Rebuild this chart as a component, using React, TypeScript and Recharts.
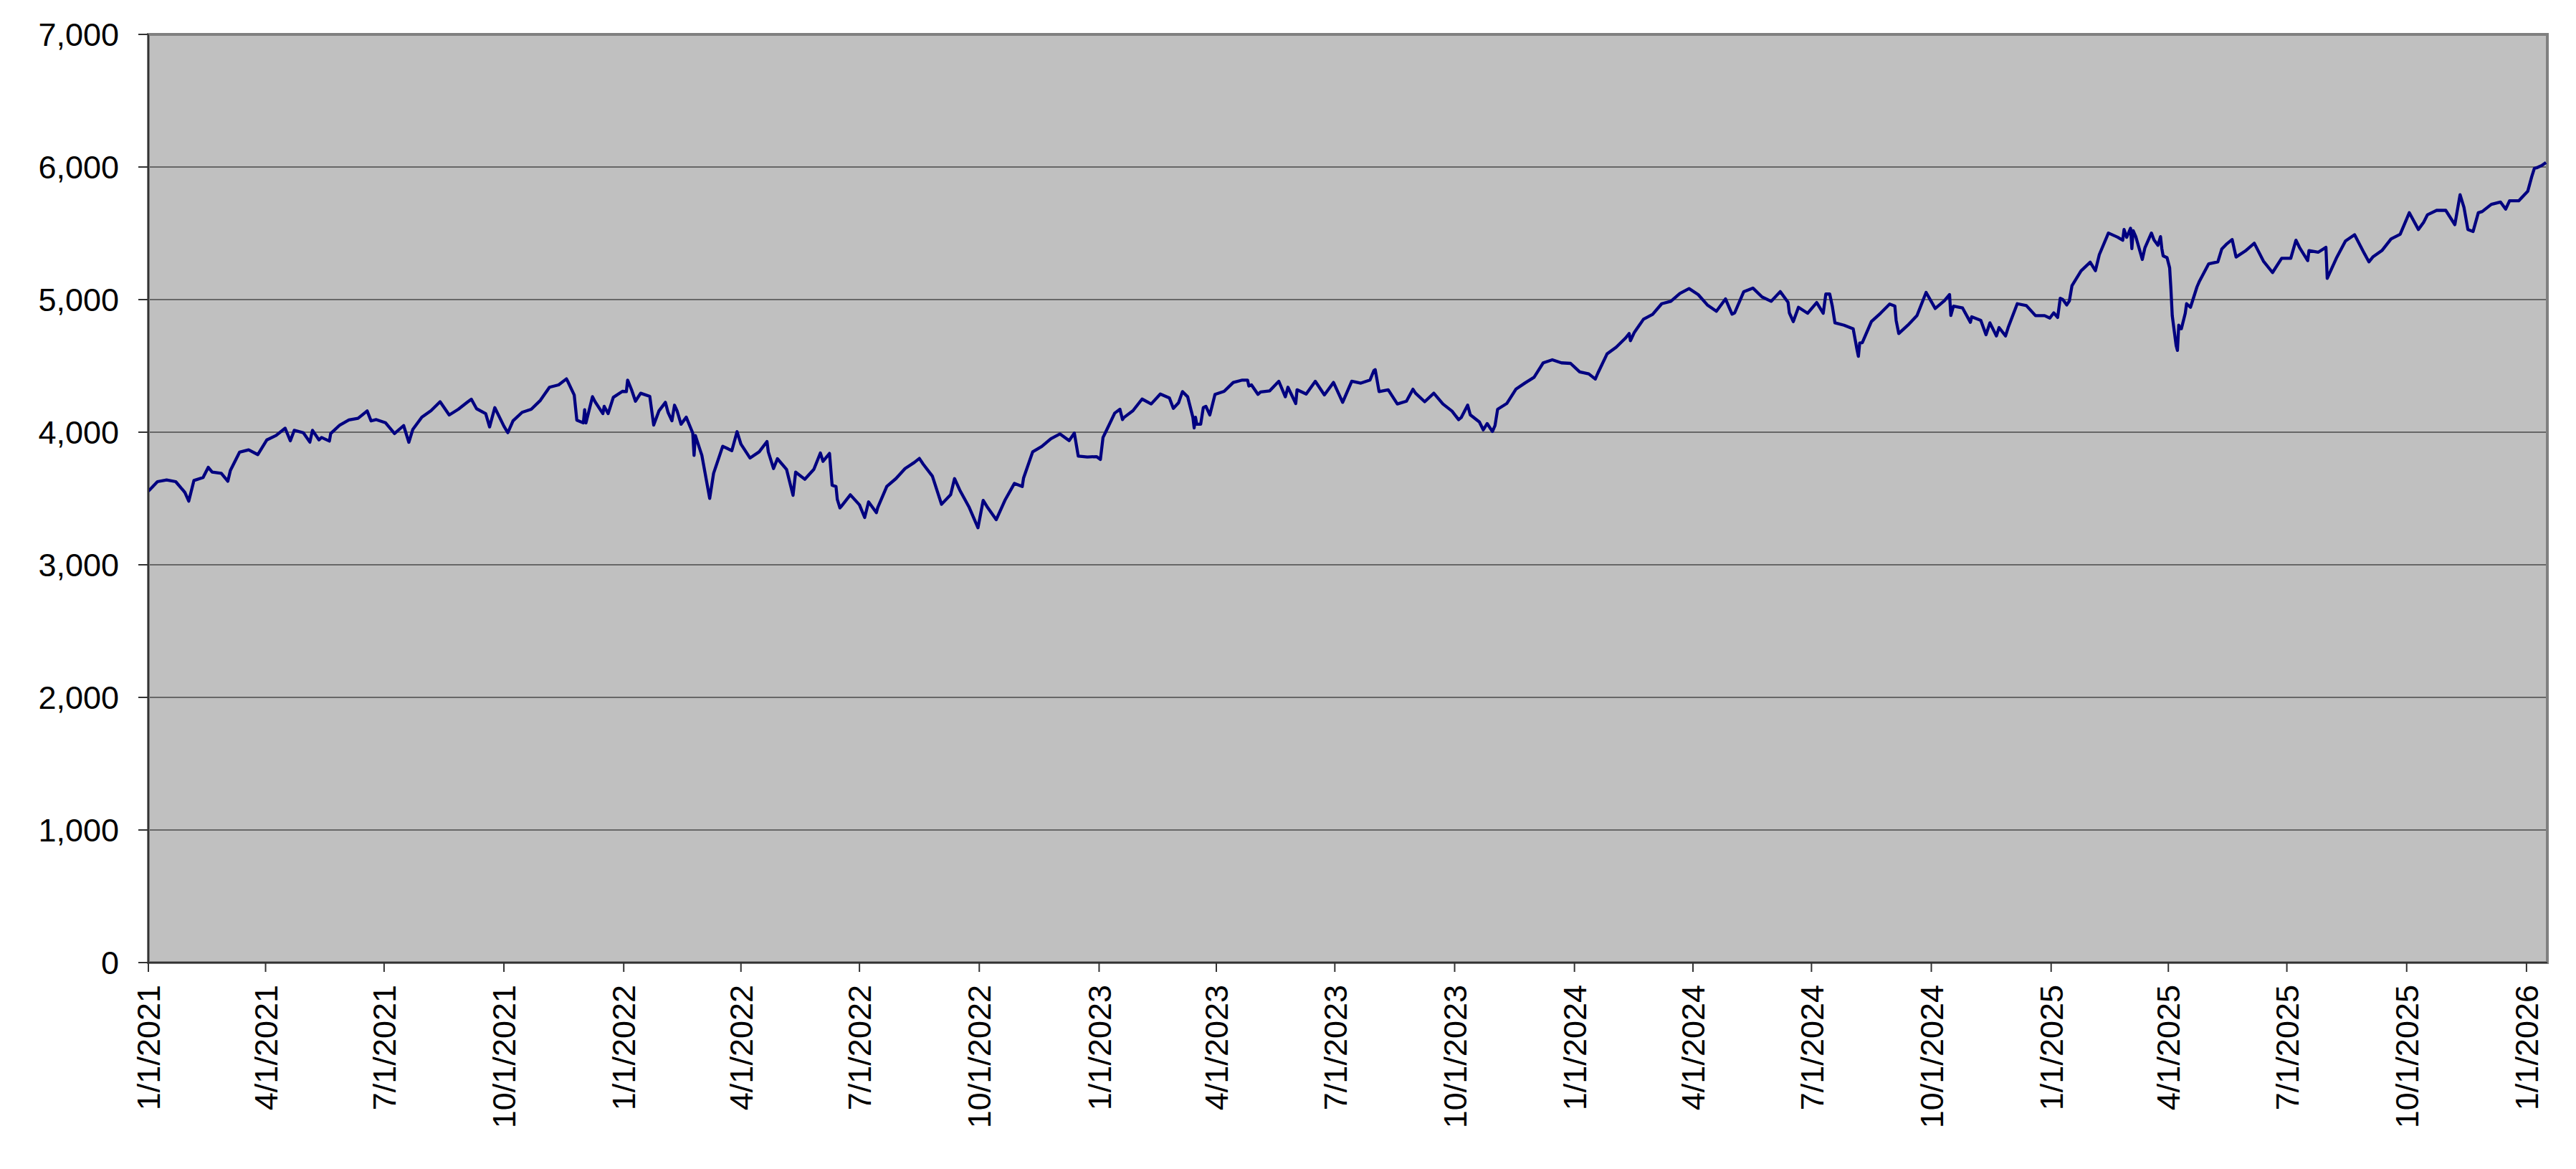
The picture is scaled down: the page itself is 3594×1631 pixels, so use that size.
import React from 'react';
import { LineChart, Line, XAxis, YAxis, CartesianGrid, ReferenceArea } from 'recharts';

// Index level (date, value)
const y2021: [string, number][] = [
  ["2021-01-01",3555],["2021-01-08",3627],["2021-01-15",3640],["2021-01-22",3627],["2021-01-29",3546],["2021-02-01",3480],
  ["2021-02-05",3636],["2021-02-12",3658],["2021-02-16",3735],["2021-02-19",3699],["2021-02-26",3690],["2021-03-03",3630],
  ["2021-03-05",3712],["2021-03-12",3849],["2021-03-19",3867],["2021-03-26",3831],["2021-04-02",3942],["2021-04-09",3975],
  ["2021-04-16",4030],["2021-04-20",3935],["2021-04-23",4014],["2021-04-30",3996],["2021-05-05",3925],["2021-05-07",4014],
  ["2021-05-12",3942],["2021-05-14",3960],["2021-05-20",3933],["2021-05-21",3990],["2021-05-28",4054],["2021-06-04",4092],
  ["2021-06-11",4105],["2021-06-18",4160],["2021-06-21",4085],["2021-06-25",4095],["2021-07-02",4072],["2021-07-09",3990],
  ["2021-07-16",4050],["2021-07-20",3924],["2021-07-23",4020],["2021-07-30",4113],["2021-08-06",4162],["2021-08-13",4230],
  ["2021-08-20",4130],["2021-08-27",4173],["2021-09-03",4227],["2021-09-06",4249],["2021-09-10",4177],["2021-09-17",4140],
  ["2021-09-20",4040],["2021-09-24",4185],["2021-10-01",4045],["2021-10-04",3996],["2021-10-08",4086],["2021-10-15",4150],
  ["2021-10-22",4173],["2021-10-29",4240],["2021-11-05",4339],["2021-11-12",4357],["2021-11-18",4402],["2021-11-19",4384],
  ["2021-11-24",4280],["2021-11-26",4090],["2021-12-01",4070],["2021-12-02",4170],["2021-12-03",4070],["2021-12-08",4268],
  ["2021-12-10",4230],["2021-12-16",4140],["2021-12-17",4195],["2021-12-20",4140],["2021-12-24",4263],["2021-12-31",4308],
];

const y2022: [string, number][] = [
  ["2022-01-03",4306],["2022-01-04",4393],["2022-01-07",4320],["2022-01-10",4234],["2022-01-14",4294],["2022-01-21",4270],
  ["2022-01-24",4054],["2022-01-28",4160],["2022-02-02",4225],["2022-02-04",4150],["2022-02-07",4086],["2022-02-09",4204],
  ["2022-02-11",4160],["2022-02-14",4060],["2022-02-18",4113],["2022-02-23",3993],["2022-02-24",3825],["2022-02-25",3975],
  ["2022-03-02",3825],["2022-03-07",3555],["2022-03-08",3501],["2022-03-11",3690],["2022-03-18",3894],["2022-03-25",3861],
  ["2022-03-29",4004],["2022-04-01",3910],["2022-04-08",3805],["2022-04-15",3852],["2022-04-21",3930],["2022-04-22",3852],
  ["2022-04-26",3726],["2022-04-29",3800],["2022-05-06",3720],["2022-05-11",3524],["2022-05-13",3699],["2022-05-20",3645],
  ["2022-05-27",3720],["2022-06-01",3843],["2022-06-03",3780],["2022-06-08",3840],["2022-06-10",3600],["2022-06-13",3590],
  ["2022-06-14",3492],["2022-06-16",3429],["2022-06-17",3440],["2022-06-24",3528],["2022-07-01",3452],["2022-07-05",3357],
  ["2022-07-08",3474],["2022-07-14",3393],["2022-07-15",3430],["2022-07-22",3591],["2022-07-29",3650],["2022-08-05",3726],
  ["2022-08-12",3771],["2022-08-16",3802],["2022-08-19",3758],["2022-08-26",3668],["2022-09-02",3456],["2022-09-09",3528],
  ["2022-09-12",3650],["2022-09-16",3564],["2022-09-23",3438],["2022-09-30",3279],["2022-10-04",3486],["2022-10-07",3438],
  ["2022-10-14",3340],["2022-10-21",3492],["2022-10-28",3614],["2022-11-03",3590],["2022-11-04",3654],["2022-11-11",3852],
  ["2022-11-18",3892],["2022-11-25",3951],["2022-12-02",3987],["2022-12-09",3937],["2022-12-13",3993],["2022-12-16",3820],
  ["2022-12-23",3813],["2022-12-30",3816],
];

const y2023: [string, number][] = [
  ["2023-01-02",3795],["2023-01-04",3960],["2023-01-06",4000],["2023-01-13",4144],["2023-01-17",4173],["2023-01-19",4095],
  ["2023-01-20",4110],["2023-01-27",4162],["2023-02-03",4250],["2023-02-10",4213],["2023-02-17",4288],["2023-02-24",4258],
  ["2023-02-27",4180],["2023-03-03",4222],["2023-03-06",4306],["2023-03-10",4267],["2023-03-14",4113],["2023-03-15",4032],
  ["2023-03-16",4113],["2023-03-17",4060],["2023-03-20",4060],["2023-03-22",4185],["2023-03-24",4195],["2023-03-27",4130],
  ["2023-03-31",4285],["2023-04-07",4308],["2023-04-14",4375],["2023-04-21",4393],["2023-04-25",4393],["2023-04-26",4348],
  ["2023-04-28",4357],["2023-05-03",4285],["2023-05-05",4303],["2023-05-12",4312],["2023-05-19",4384],["2023-05-24",4267],
  ["2023-05-26",4339],["2023-06-01",4216],["2023-06-02",4320],["2023-06-09",4288],["2023-06-16",4384],["2023-06-23",4281],
  ["2023-06-30",4375],["2023-07-07",4225],["2023-07-14",4384],["2023-07-21",4370],["2023-07-28",4393],["2023-07-31",4465],
  ["2023-08-01",4472],["2023-08-04",4306],["2023-08-11",4320],["2023-08-18",4213],["2023-08-25",4234],["2023-08-30",4324],
  ["2023-09-01",4294],["2023-09-08",4230],["2023-09-15",4294],["2023-09-22",4213],["2023-09-29",4159],["2023-10-04",4095],
  ["2023-10-06",4110],["2023-10-11",4204],["2023-10-13",4131],["2023-10-20",4077],["2023-10-23",4018],["2023-10-26",4065],
  ["2023-10-30",4005],["2023-11-01",4050],["2023-11-03",4173],["2023-11-10",4216],["2023-11-17",4324],["2023-11-24",4371],
  ["2023-12-01",4414],["2023-12-08",4523],["2023-12-15",4546],["2023-12-22",4523],["2023-12-29",4519],
];

const y2024: [string, number][] = [
  ["2024-01-05",4455],["2024-01-12",4440],["2024-01-17",4401],["2024-01-19",4446],["2024-01-26",4590],["2024-02-02",4641],
  ["2024-02-09",4708],["2024-02-12",4744],["2024-02-13",4690],["2024-02-16",4753],["2024-02-23",4852],["2024-03-01",4888],
  ["2024-03-08",4969],["2024-03-15",4987],["2024-03-22",5047],["2024-03-29",5083],["2024-04-05",5038],["2024-04-12",4960],
  ["2024-04-19",4912],["2024-04-26",5005],["2024-05-01",4890],["2024-05-03",4900],["2024-05-10",5060],["2024-05-17",5087],
  ["2024-05-24",5020],["2024-05-31",4987],["2024-06-07",5060],["2024-06-13",4980],["2024-06-14",4900],["2024-06-17",4834],
  ["2024-06-21",4942],["2024-06-28",4897],["2024-07-05",4978],["2024-07-10",4897],["2024-07-12",5042],["2024-07-15",5042],
  ["2024-07-17",4950],["2024-07-19",4825],["2024-07-26",4807],["2024-08-02",4780],["2024-08-05",4620],["2024-08-06",4572],
  ["2024-08-07",4672],["2024-08-09",4675],["2024-08-16",4834],["2024-08-23",4897],["2024-08-30",4966],["2024-09-03",4951],
  ["2024-09-04",4843],["2024-09-06",4744],["2024-09-13",4807],["2024-09-20",4880],["2024-09-27",5054],["2024-10-04",4933],
  ["2024-10-11",4991],["2024-10-15",5038],["2024-10-16",4880],["2024-10-18",4951],["2024-10-25",4937],["2024-10-31",4829],
  ["2024-11-01",4870],["2024-11-08",4843],["2024-11-12",4735],["2024-11-15",4825],["2024-11-20",4726],["2024-11-22",4789],
  ["2024-11-27",4726],["2024-11-29",4789],["2024-12-06",4969],["2024-12-13",4955],["2024-12-20",4879],["2024-12-27",4879],
  ["2024-12-31",4861],
];

const y2025: [string, number][] = [
  ["2025-01-03",4900],["2025-01-06",4865],["2025-01-08",5010],["2025-01-10",5000],["2025-01-13",4960],["2025-01-15",4990],
  ["2025-01-17",5105],["2025-01-24",5217],["2025-01-31",5282],["2025-02-04",5218],["2025-02-07",5339],["2025-02-14",5502],
  ["2025-02-21",5471],["2025-02-25",5448],["2025-02-26",5529],["2025-02-28",5470],["2025-03-03",5538],["2025-03-04",5384],
  ["2025-03-05",5520],["2025-03-07",5475],["2025-03-12",5303],["2025-03-14",5390],["2025-03-19",5502],["2025-03-21",5450],
  ["2025-03-24",5410],["2025-03-26",5475],["2025-03-27",5385],["2025-03-28",5330],["2025-03-31",5316],["2025-04-02",5240],
  ["2025-04-03",5078],["2025-04-04",4879],["2025-04-07",4653],["2025-04-08",4617],["2025-04-09",4807],["2025-04-10",4780],
  ["2025-04-11",4780],["2025-04-14",4897],["2025-04-15",4969],["2025-04-18",4942],["2025-04-23",5096],["2025-04-25",5141],
  ["2025-05-02",5270],["2025-05-09",5285],["2025-05-12",5381],["2025-05-16",5421],["2025-05-20",5453],["2025-05-23",5321],
  ["2025-05-30",5366],["2025-06-06",5425],["2025-06-13",5290],["2025-06-20",5204],["2025-06-27",5312],["2025-07-04",5312],
  ["2025-07-08",5448],["2025-07-11",5388],["2025-07-17",5294],["2025-07-18",5370],["2025-07-25",5357],["2025-07-31",5394],
  ["2025-08-01",5160],["2025-08-08",5312],["2025-08-15",5442],["2025-08-22",5489],["2025-08-29",5357],["2025-09-02",5285],
  ["2025-09-05",5321],["2025-09-12",5370],["2025-09-19",5457],["2025-09-26",5493],["2025-10-03",5655],["2025-10-10",5529],
  ["2025-10-14",5583],["2025-10-17",5640],["2025-10-24",5673],["2025-10-31",5673],["2025-11-07",5565],["2025-11-11",5791],
  ["2025-11-14",5695],["2025-11-17",5529],["2025-11-21",5514],["2025-11-25",5655],["2025-11-28",5664],["2025-12-05",5718],
  ["2025-12-12",5736],["2025-12-16",5682],["2025-12-19",5745],["2025-12-26",5745],
];

const y2026: [string, number][] = [
  ["2026-01-02",5818],["2026-01-05",5926],["2026-01-07",5989],["2026-01-09",5995],["2026-01-13",6013],["2026-01-16",6034],
];

const xTickDates = [
  "2021-01-01","2021-04-01","2021-07-01","2021-10-01",
  "2022-01-01","2022-04-01","2022-07-01","2022-10-01",
  "2023-01-01","2023-04-01","2023-07-01","2023-10-01",
  "2024-01-01","2024-04-01","2024-07-01","2024-10-01",
  "2025-01-01","2025-04-01","2025-07-01","2025-10-01",
  "2026-01-01",
];
const yTicks = [0, 1000, 2000, 3000, 4000, 5000, 6000, 7000];
const X_MIN = "2021-01-01";
const X_MAX = "2026-01-17";

const toT = (s: string) => Date.parse(s + "T00:00:00Z");
const data = [...y2021, ...y2022, ...y2023, ...y2024, ...y2025, ...y2026].map(([d, v]) => ({ t: toT(d), v }));
const xTicks = xTickDates.map(toT);
const xDomain: [number, number] = [toT(X_MIN), toT(X_MAX)];

const fmtDate = (t: number) => {
  const d = new Date(t);
  return `${d.getUTCMonth() + 1}/${d.getUTCDate()}/${d.getUTCFullYear()}`;
};
const fmtNum = (v: number) => v.toLocaleString("en-US");

const FONT = '"Liberation Sans", Arial, Helvetica, sans-serif';
const FONT_SIZE = 45;

function XTick(props: any) {
  const { x, y, payload } = props;
  return (
    <text
      x={x}
      y={y}
      transform={`rotate(-90, ${x}, ${y})`}
      textAnchor="end"
      dy="0.36em"
      fontSize={FONT_SIZE}
      fontFamily={FONT}
      fill="#000"
    >
      {fmtDate(payload.value)}
    </text>
  );
}

export default function App() {
  return (
    <div style={{ position: "absolute", left: 0, top: 0, width: 3594, height: 1631, background: "#fff" }}>
      <LineChart
        width={3594}
        height={1631}
        data={data}
        margin={{ top: 48, right: 40, bottom: 0, left: 0 }}
      >
        <CartesianGrid
          vertical={false}
          horizontal={true}
          fill="#C0C0C0"
          fillOpacity={1}
          stroke="#4a4a4a"
          strokeWidth={1.4}
        />
        <ReferenceArea
          x1={xDomain[0]}
          x2={xDomain[1]}
          y1={0}
          y2={7000}
          fill="none"
          fillOpacity={0}
          stroke="#808080"
          strokeWidth={4}
          ifOverflow="visible"
        />
        <XAxis
          dataKey="t"
          type="number"
          scale="linear"
          domain={xDomain}
          ticks={xTicks}
          interval={0}
          allowDataOverflow
          height={288}
          tick={<XTick />}
          tickSize={13}
          tickMargin={18}
          tickLine={{ stroke: "#333", strokeWidth: 2 }}
          axisLine={{ stroke: "#333", strokeWidth: 2 }}
        />
        <YAxis
          type="number"
          domain={[0, 7000]}
          ticks={yTicks}
          interval={0}
          width={207}
          tickFormatter={fmtNum}
          tick={{ fontSize: FONT_SIZE, fontFamily: FONT, fill: "#000" }}
          tickSize={14}
          tickMargin={27}
          tickLine={{ stroke: "#333", strokeWidth: 2 }}
          axisLine={{ stroke: "#333", strokeWidth: 2 }}
        />
        <Line
          type="linear"
          dataKey="v"
          stroke="#000080"
          strokeWidth={4.3}
          strokeLinejoin="round"
          dot={false}
          activeDot={false}
          isAnimationActive={false}
        />
      </LineChart>
    </div>
  );
}
